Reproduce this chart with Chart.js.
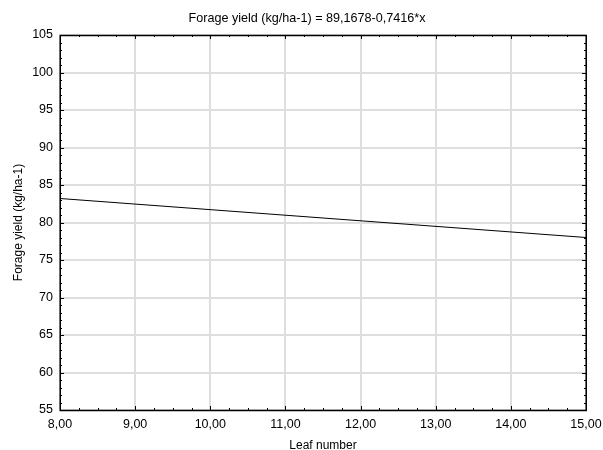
<!DOCTYPE html>
<html>
<head>
<meta charset="utf-8">
<script src="https://cdn.jsdelivr.net/npm/chart.js@4.4.1/dist/chart.umd.min.js"></script>
<style>
body{margin:0;background:#fff;}
#wrap{width:603px;height:450px;}
</style>
</head>
<body>
<div id="wrap"><canvas id="yieldChart" width="603" height="450"></canvas></div>

<script>

/* data */

const leafNumber=[8,15];
const forageYield=[83.2,78.0];

const xTickLabels=['8,00','9,00','10,00','11,00','12,00','13,00','14,00','15,00'];
const yTickLabels=['55','60','65','70','75','80','85','90','95','100','105'];

const chartTitle='Forage yield (kg/ha-1) = 89,1678-0,7416*x';
const xTitle='Leaf number';
const yTitle='Forage yield (kg/ha-1)';

const FONT='"Liberation Sans", Arial, sans-serif';


/* inward ticks + frame, like the stats package draws them */

const frameTicks={
id:'frameTicks',
afterDraw(chart){
const c=chart.ctx;
const a=chart.chartArea;
const xs=chart.scales.x;
const ys=chart.scales.y;

c.save();
c.strokeStyle='#000';
c.lineWidth=1;
c.beginPath();

for(let v=xs.min;v<=xs.max+0.001;v+=0.25){
const px=Math.round(xs.getPixelForValue(v))+0.5;
const len=Math.abs(v-Math.round(v))<0.01?4:2;
c.moveTo(px,a.bottom);c.lineTo(px,a.bottom-len);
c.moveTo(px,a.top);c.lineTo(px,a.top+len);
}

for(let v=ys.min;v<=ys.max+0.001;v+=1){
const py=Math.round(ys.getPixelForValue(v))+0.5;
const len=v%5===0?4:2;
c.moveTo(a.left,py);c.lineTo(a.left+len,py);
c.moveTo(a.right,py);c.lineTo(a.right-len,py);
}
c.stroke();

c.lineWidth=1.5;
c.strokeRect(Math.round(a.left)+0.25,Math.round(a.top)+0.5,Math.round(a.right-a.left),Math.round(a.bottom-a.top));
c.restore();
}
};


const ctx=document.getElementById('yieldChart');

new Chart(ctx,{

type:'scatter',

data:{
datasets:[{
label:yTitle,
data:leafNumber.map((x,i)=>({x:x,y:forageYield[i]})),
showLine:true,
borderColor:'#000',
borderWidth:1,
pointRadius:0,
fill:false
}]
},

options:{
responsive:false,
animation:false,
// left padding 28 only to push the chart title centre to ~307px
layout:{padding:{left:28,right:17,top:0,bottom:0}},
plugins:{
legend:{display:false},
tooltip:{enabled:false},
title:{
display:true,
text:chartTitle,
color:'#000',
font:{family:FONT,size:12.6,weight:'normal'},
padding:{top:10.5,bottom:9.4}
}
},
scales:{
x:{
type:'linear',
min:8,
max:15,
afterFit(s){s.height=40;s.paddingLeft=0;s.paddingRight=0;},
afterBuildTicks(s){s.ticks=xTickLabels.map((t,i)=>({value:8+i}));},
ticks:{
color:'#000',
font:{family:FONT,size:12.5},
padding:7,
maxRotation:0,
autoSkip:false,
callback:(v,i)=>xTickLabels[i]
},
grid:{color:'#dedede',lineWidth:2,drawTicks:false},
border:{display:false},
title:{
display:true,
text:xTitle,
color:'#000',
font:{family:FONT,size:12},
padding:{top:0,bottom:-3}
}
},
y:{
type:'linear',
min:55,
max:105,
afterFit(s){s.width=32;s.paddingTop=0;s.paddingBottom=0;},
afterBuildTicks(s){s.ticks=yTickLabels.map(t=>({value:Number(t)}));},
ticks:{
color:'#000',
font:{family:FONT,size:12.5},
padding:7,
autoSkip:false,
callback:(v,i)=>yTickLabels[i]
},
grid:{color:'#dedede',lineWidth:2,drawTicks:false},
border:{display:false},
title:{
display:true,
text:yTitle,
color:'#000',
font:{family:FONT,size:12},
padding:{top:-17,bottom:0}
}
}
}
},

plugins:[frameTicks]

});

</script>
</body>
</html>
